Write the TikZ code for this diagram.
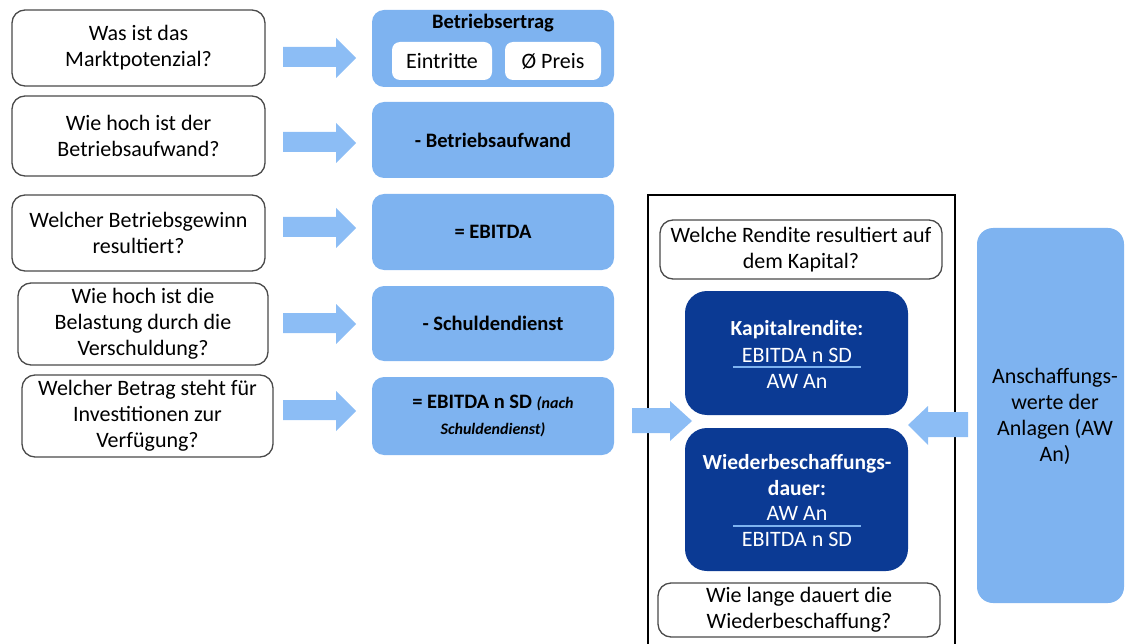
\documentclass[tikz,border=0pt]{standalone}
\usepackage{fontspec}
\setmainfont{Carlito}
\definecolor{lblue}{HTML}{7EB3F0}
\definecolor{ablue}{HTML}{8CBDF5}
\definecolor{dblue}{HTML}{0B3A94}
\definecolor{gborder}{HTML}{4A4A4A}
\begin{document}
\begin{tikzpicture}[x=1pt,y=-1pt,
  txt/.style={font=\fontsize{22}{26}\selectfont, align=center, inner sep=0pt},
  q/.style={txt, draw=gborder, line width=1.3pt, rounded corners=13pt, fill=white},
  bbox/.style={txt, fill=lblue, rounded corners=12pt, font=\fontsize{20.5}{26}\selectfont\bfseries},
  wbox/.style={txt, fill=white, rounded corners=8pt},
  dbox/.style={fill=dblue, rounded corners=22pt, inner sep=0pt},
  wtxt/.style={txt, text=white},
  barrow/.style={fill=ablue}
]
\useasboundingbox (0,0) rectangle (1126,644);

% left question boxes
\node[q, minimum width=253pt, minimum height=76pt] (q1) at (138.5,48) {Was ist das\\Marktpotenzial?};
\node[q, minimum width=253pt, minimum height=80pt] (q2) at (138.5,136) {Wie hoch ist der\\Betriebsaufwand?};
\node[q, minimum width=253pt, minimum height=76pt] (q3) at (138.5,233) {Welcher Betriebsgewinn\\resultiert?};
\node[q, minimum width=250pt, minimum height=82pt] (q4) at (143,324) {Wie hoch ist die\\Belastung durch die\\Verschuldung?};
\node[q, minimum width=251pt, minimum height=82pt] (q5) at (147.5,416) {Welcher Betrag steht für\\Investitionen zur\\Verfügung?};

% blue boxes
\node[bbox, minimum width=242pt, minimum height=77pt] (b1) at (493,48.5) {};
\node[txt, font=\fontsize{20.5}{26}\selectfont\bfseries] (b1t) at (493,23) {Betriebsertrag};
\node[wbox, minimum width=100pt, minimum height=38pt] (ein) at (442,61) {Eintritte};
\node[wbox, minimum width=96pt, minimum height=38pt] (preis) at (553,61) {Ø Preis};
\node[bbox, minimum width=242pt, minimum height=76pt] (b2) at (493,140) {- Betriebsaufwand};
\node[bbox, minimum width=242pt, minimum height=76pt] (b3) at (493,232) {= EBITDA};
\node[bbox, minimum width=242pt, minimum height=75pt] (b4) at (493,323.5) {- Schuldendienst};
\node[bbox, minimum width=242pt, minimum height=78pt] (b5) at (493,416) {= EBITDA n SD {\fontsize{16}{26}\selectfont\itshape (nach}\\{\fontsize{16}{20}\selectfont\itshape Schuldendienst)}};

% block arrows left column
\foreach \yy in {58,143,228,324,411} {
  \fill[barrow] (283,\yy-11) -- (336,\yy-11) -- (336,\yy-20) -- (356,\yy) -- (336,\yy+20) -- (336,\yy+9) -- (283,\yy+9) -- cycle;
}

% frame
\draw[line width=1.6pt, black] (648,646) -- (648,195) -- (955,195) -- (955,646);
\node[q, minimum width=282pt, minimum height=59pt] (rq) at (801,249.5) {Welche Rendite resultiert auf\\dem Kapital?};
\node[q, minimum width=282pt, minimum height=54pt] (wq) at (799,610) {Wie lange dauert die\\Wiederbeschaffung?};

\node[dbox, minimum width=223pt, minimum height=124pt] (k) at (796.5,353) {};
\node[wtxt, font=\fontsize{21.5}{26}\selectfont\bfseries] (kt) at (797,330) {Kapitalrendite:};
\node[wtxt] (kn) at (797,355) {EBITDA n SD};
\node[wtxt] (kd) at (797,381) {AW An};
\draw[lblue, line width=1.8pt] (733,367) -- (861,367);

\node[dbox, minimum width=223pt, minimum height=143pt] (w) at (796.5,499.5) {};
\node[wtxt, font=\fontsize{21.5}{26}\selectfont\bfseries] (wt) at (797,475) {Wiederbeschaffungs-\\dauer:};
\node[wtxt] (wn) at (797,513) {AW An};
\node[wtxt] (wd) at (797,539) {EBITDA n SD};
\draw[lblue, line width=1.8pt] (733,526) -- (861,526);

% arrows into frame
\fill[barrow] (632,408) -- (670,408) -- (670,401) -- (692,421) -- (670,441) -- (670,433) -- (632,433) -- cycle;
\fill[barrow] (968,412) -- (928,412) -- (928,406) -- (908,425) -- (928,445) -- (928,437) -- (968,437) -- cycle;

% right box
\node[txt, fill=lblue, rounded corners=16pt, minimum width=147pt, minimum height=375pt] (aw) at (1050.5,415.5) {};
\node[txt] (awt) at (1055,416) {Anschaffungs-\\werte der\\Anlagen (AW\\An)};
\end{tikzpicture}
\end{document}
